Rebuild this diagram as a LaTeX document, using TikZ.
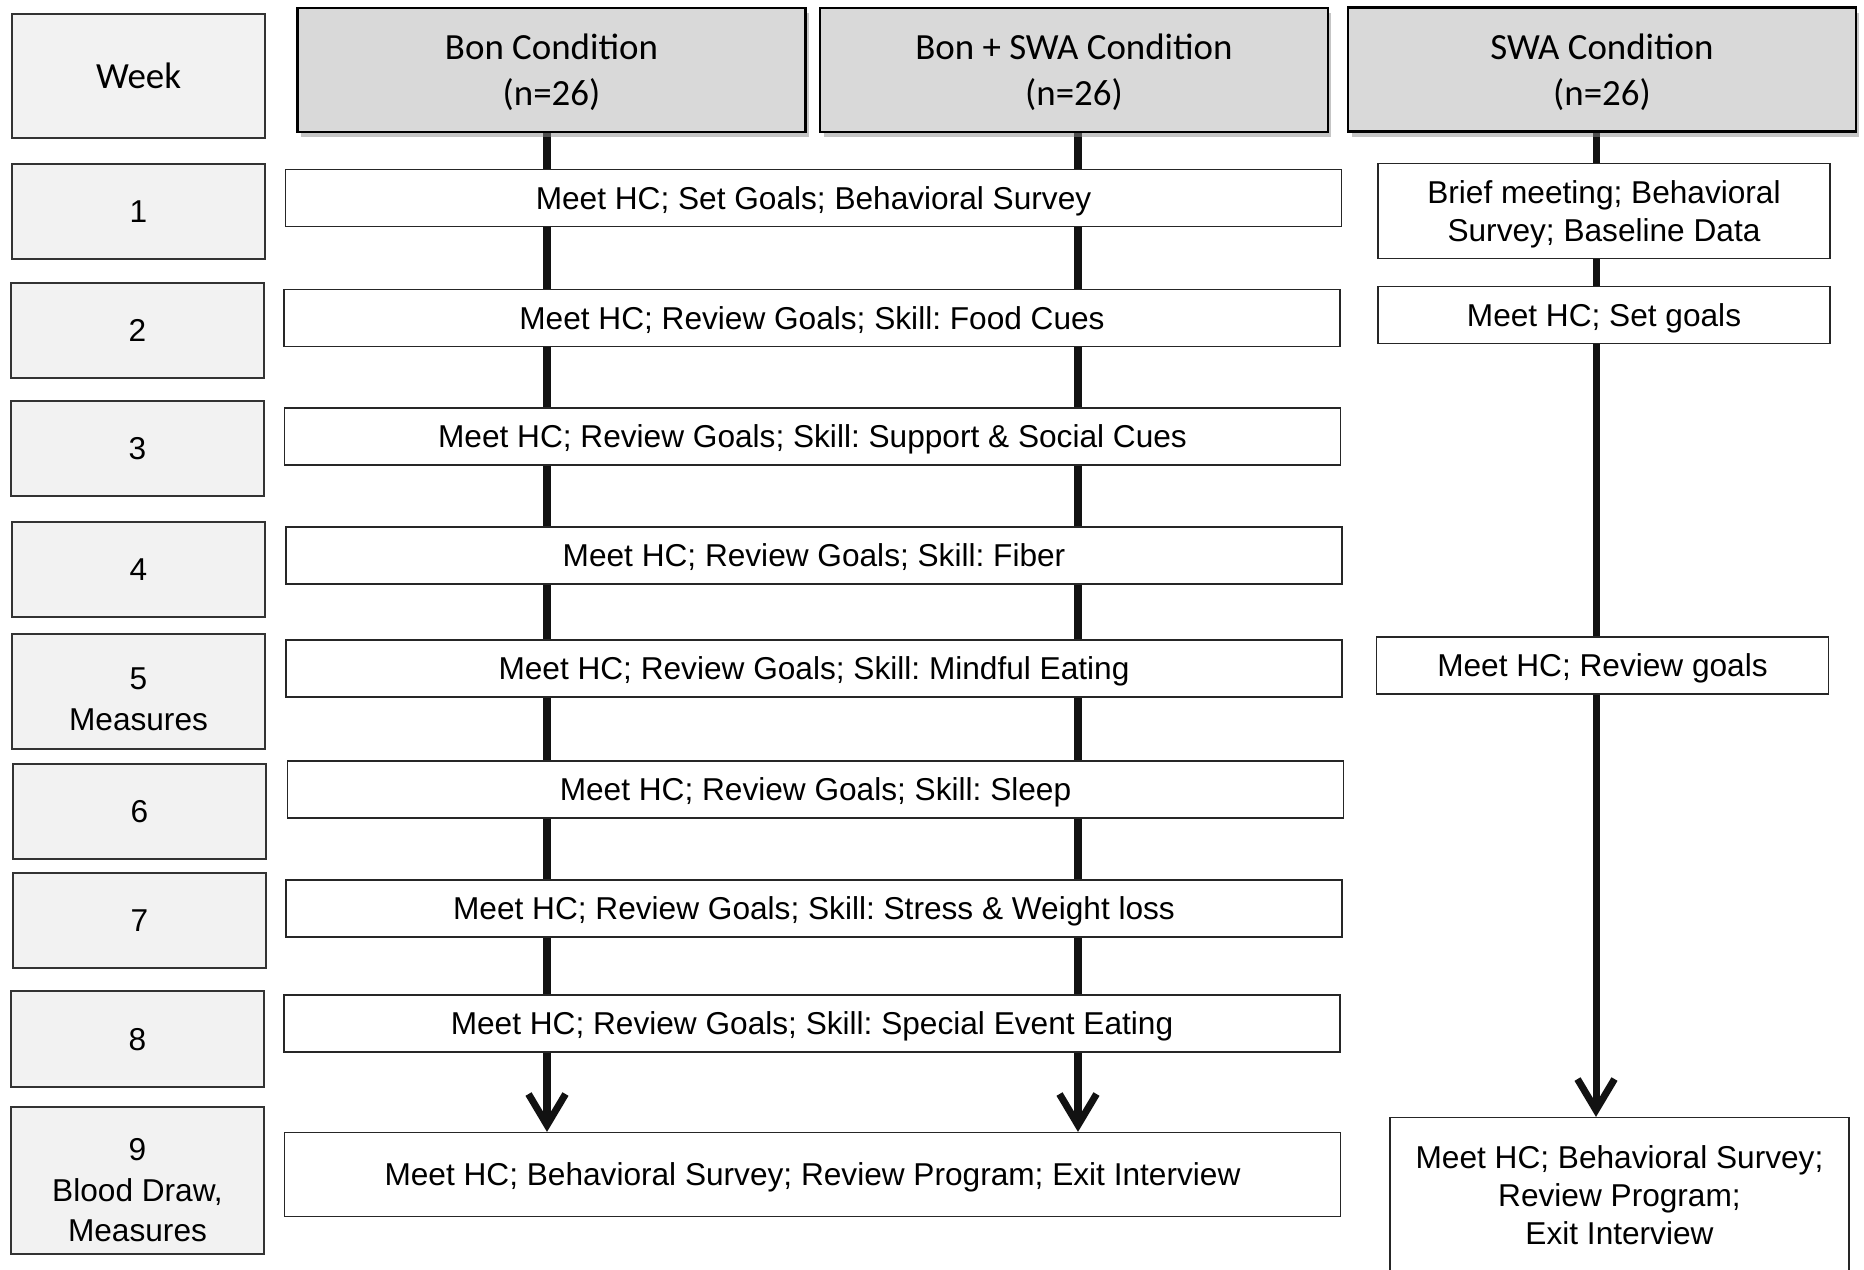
\documentclass[tikz,border=0pt]{standalone}
\usepackage{fontspec}
\setmainfont{Liberation Sans}
\newfontfamily\hdfont{Carlito}
\frenchspacing
\usetikzlibrary{arrows.meta,shadows,backgrounds}

\begin{document}
\begin{tikzpicture}[
    x=0.02cm, y=-0.02cm,
    weekbox/.style={rectangle, draw=black!80, line width=0.7pt, fill=black!5, minimum width=5.06cm, minimum height=1.9cm, inner sep=0pt, text depth=0pt, align=center, font=\fontsize{18}{23}\selectfont},
    condbox/.style={rectangle, draw=black, line width=1.2pt, fill=black!15, minimum width=10.16cm, minimum height=2.48cm, text depth=0pt, align=center, font=\hdfont\fontsize{21}{26}\selectfont, drop shadow={shadow xshift=2pt, shadow yshift=-3pt, fill=black!45}},
    stepbox/.style={rectangle, draw=black!85, line width=0.7pt, fill=white, minimum width=21.12cm, minimum height=1.14cm, inner sep=0pt, text depth=0pt, align=center, font=\fontsize{18}{21.5}\selectfont},
    swabox/.style={stepbox, minimum width=9.04cm},
    flow/.style={line width=4pt, color=black!93},
    flowarr/.style={flow, -{Straight Barb[length=0.62cm, width=0.74cm]}}
]
\useasboundingbox (0,0) rectangle (1864,1270);
\clip (0,0) rectangle (1864,1270);

% week column
\node[weekbox, minimum height=2.48cm, font=\hdfont\fontsize{21}{26}\selectfont] (wk) at (138.5,76) {Week};
\node[weekbox] (w1) at (138.5,211.5) {1};
\node[weekbox] (w2) at (137.5,330.5) {2};
\node[weekbox] (w3) at (137.5,448.5) {3};
\node[weekbox] (w4) at (138.5,569.5) {4};
\node[weekbox, minimum height=2.3cm, text height=44pt] (w5) at (138.5,691.5) {5\\Measures};
\node[weekbox] (w6) at (139.5,811.5) {6};
\node[weekbox] (w7) at (139.5,920.5) {7};
\node[weekbox, minimum height=1.92cm] (w8) at (137.5,1039) {8};
\node[weekbox, minimum height=2.94cm, text height=69.5pt] (w9) at (137.5,1180.5) {9\\Blood Draw,\\Measures};

% conditions
\node[condbox] (bon) at (551.5,70) {Bon Condition\\(n=26)};
\node[condbox] (both) at (1074,70) {Bon + SWA Condition\\(n=26)};
\node[condbox] (swa) at (1602,69.5) {SWA Condition\\(n=26)};

% Bon and Bon + SWA sessions
\node[stepbox] (m1) at (813.5,198) {Meet HC; Set Goals; Behavioral Survey};
\node[stepbox] (m2) at (812,318) {Meet HC; Review Goals; Skill: Food Cues};
\node[stepbox] (m3) at (812.5,436.5) {Meet HC; Review Goals; Skill: Support \& Social Cues};
\node[stepbox] (m4) at (814,555.5) {Meet HC; Review Goals; Skill: Fiber};
\node[stepbox] (m5) at (814,668.5) {Meet HC; Review Goals; Skill: Mindful Eating};
\node[stepbox] (m6) at (815.5,789.5) {Meet HC; Review Goals; Skill: Sleep};
\node[stepbox] (m7) at (814,908.5) {Meet HC; Review Goals; Skill: Stress \& Weight loss};
\node[stepbox] (m8) at (812,1023.5) {Meet HC; Review Goals; Skill: Special Event Eating};
\node[stepbox, minimum height=1.68cm] (m9) at (812.5,1174.5) {Meet HC; Behavioral Survey; Review Program; Exit Interview};

% SWA sessions
\node[swabox, minimum height=1.9cm] (r1) at (1604,211) {Brief meeting; Behavioral\\Survey; Baseline Data};
\node[swabox] (r2) at (1604,315) {Meet HC; Set goals};
\node[swabox] (r5) at (1602.5,665.5) {Meet HC; Review goals};
\node[swabox, minimum width=9.18cm, minimum height=3.1cm] (r9) at (1619.5,1195) {Meet HC; Behavioral Survey;\\Review Program;\\Exit Interview};

\coordinate (bonx) at (547,0);
\coordinate (bothx) at (1078,0);
\coordinate (swax) at (1596,0);

\begin{scope}[on background layer]
\draw[flow] (bonx |- bon.south) -- (bonx |- m8.south);
\draw[flow] (bothx |- both.south) -- (bothx |- m8.south);
\draw[flow] (swax |- swa.south) -- (swax |- r5.south);
\end{scope}
\draw[flowarr] (bonx |- m8.south) -- (bonx |- m9.north);
\draw[flowarr] (bothx |- m8.south) -- (bothx |- m9.north);
\draw[flowarr] (swax |- r5.south) -- (swax |- r9.north);
\end{tikzpicture}
\end{document}
